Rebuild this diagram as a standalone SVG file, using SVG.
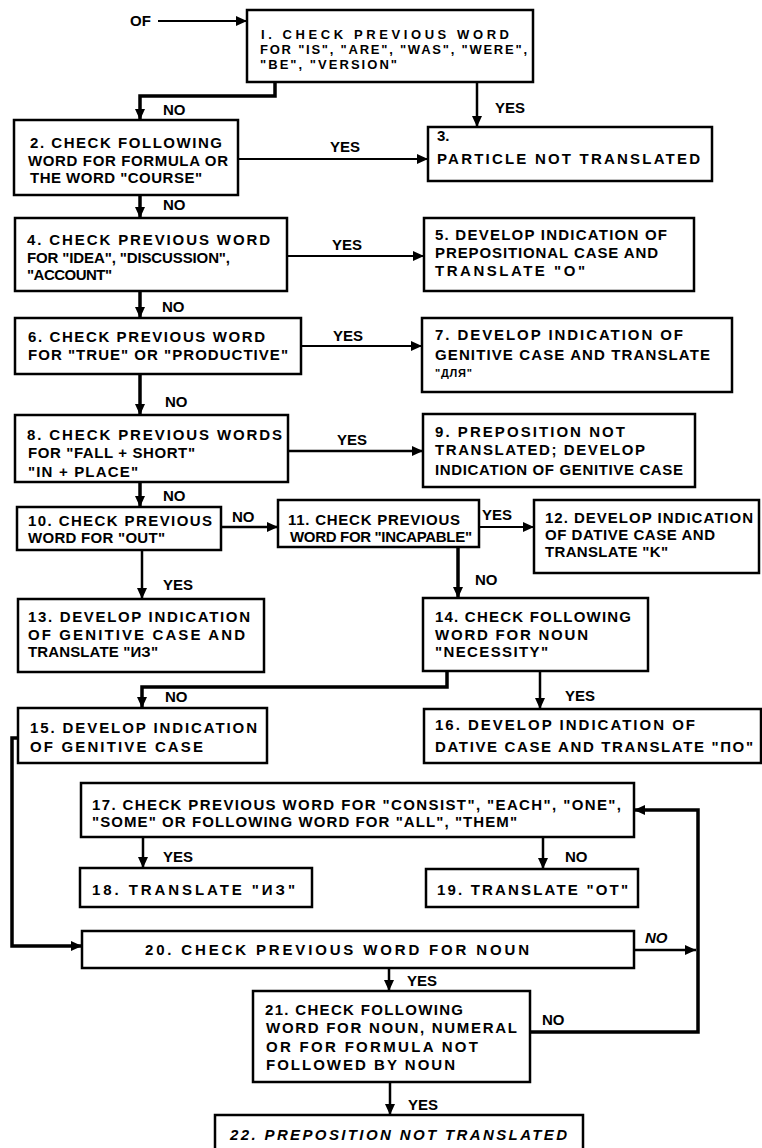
<svg xmlns="http://www.w3.org/2000/svg" width="762" height="1148" viewBox="0 0 762 1148">
<style>
.box{fill:#fff;stroke:#000;stroke-width:2.5}
.t{font-family:"Liberation Sans",Arial,sans-serif;font-weight:bold;font-size:15px;fill:#000}
.sm{font-size:11px}
.s13{font-size:13px}
.it{font-style:italic}
.thick{fill:none;stroke:#000;stroke-width:3.5}
.med{fill:none;stroke:#000;stroke-width:2.5}
.thin{fill:none;stroke:#000;stroke-width:1.8}
</style>
<defs>
<marker id="ah" markerUnits="userSpaceOnUse" markerWidth="11" markerHeight="10" refX="11" refY="5" orient="auto">
<path d="M0,0 L11,5 L0,10 z" fill="#000"/>
</marker>
</defs>
<rect width="762" height="1148" fill="#fff"/>

<g id="connectors">
<text class="t" x="130" y="26">OF</text>
<path class="thin" d="M158,21 H247" marker-end="url(#ah)"/>
<path class="thick" d="M275,82 V96 H140 V120" marker-end="url(#ah)"/>
<text class="t" x="163" y="115">NO</text>
<path class="med" d="M477,82 V127" marker-end="url(#ah)"/>
<text class="t" x="495" y="113">YES</text>
<path class="thin" d="M238,159 H428" marker-end="url(#ah)"/>
<text class="t" x="330" y="152">YES</text>
<path class="thick" d="M140,195 V218" marker-end="url(#ah)"/>
<text class="t" x="163" y="210">NO</text>
<path class="thin" d="M287,256 H424" marker-end="url(#ah)"/>
<text class="t" x="332" y="250">YES</text>
<path class="thick" d="M140,291 V318" marker-end="url(#ah)"/>
<text class="t" x="162" y="312">NO</text>
<path class="thin" d="M301,346 H422" marker-end="url(#ah)"/>
<text class="t" x="333" y="341">YES</text>
<path class="thick" d="M140,374 V415" marker-end="url(#ah)"/>
<text class="t" x="165" y="407">NO</text>
<path class="med" d="M288,451 H423" marker-end="url(#ah)"/>
<text class="t" x="337" y="445">YES</text>
<path class="thick" d="M140,482 V507" marker-end="url(#ah)"/>
<text class="t" x="163" y="501">NO</text>
<path class="med" d="M221,527 H278" marker-end="url(#ah)"/>
<text class="t" x="232" y="522">NO</text>
<path class="thin" d="M479,527 H534" marker-end="url(#ah)"/>
<text class="t" x="482" y="520">YES</text>
<path class="med" d="M142,550 V599" marker-end="url(#ah)"/>
<text class="t" x="163" y="590">YES</text>
<path class="thick" d="M458,547 V598" marker-end="url(#ah)"/>
<text class="t" x="475" y="585">NO</text>
<path class="thick" d="M447,671 V687 H142 V708" marker-end="url(#ah)"/>
<text class="t" x="165" y="702">NO</text>
<path class="med" d="M540,671 V709" marker-end="url(#ah)"/>
<text class="t" x="565" y="701">YES</text>
<path class="thick" d="M18,738 H12 V946 H82" marker-end="url(#ah)"/>
<path class="med" d="M143,837 V868" marker-end="url(#ah)"/>
<text class="t" x="163" y="862">YES</text>
<path class="med" d="M543,837 V869" marker-end="url(#ah)"/>
<text class="t" x="565" y="862">NO</text>
<path class="med" d="M634,950 H696" marker-end="url(#ah)"/>
<text class="t it" x="645" y="943">NO</text>
<path class="thick" d="M530,1032 H698 V810 H634" marker-end="url(#ah)"/>
<text class="t" x="542" y="1025">NO</text>
<path class="med" d="M389,968 V991" marker-end="url(#ah)"/>
<text class="t" x="407" y="986">YES</text>
<path class="med" d="M390,1082 V1115" marker-end="url(#ah)"/>
<text class="t" x="408" y="1110">YES</text>
</g>

<g id="n1">
<rect class="box" x="247" y="10" width="286" height="72"/>
<text class="t s13" x="261" y="39" textLength="248">I. CHECK PREVIOUS WORD</text>
<text class="t s13" x="260" y="54" textLength="267">FOR "IS", "ARE", "WAS", "WERE",</text>
<text class="t s13" x="260" y="69" textLength="137">"BE", "VERSION"</text>
</g>
<g id="n2">
<rect class="box" x="14" y="120" width="224" height="75"/>
<text class="t" x="30" y="148" textLength="192">2. CHECK FOLLOWING</text>
<text class="t" x="28" y="166" textLength="200">WORD FOR FORMULA OR</text>
<text class="t" x="30" y="183" textLength="172">THE WORD "COURSE"</text>
</g>
<g id="n3">
<rect class="box" x="428" y="127" width="284" height="54"/>
<text class="t" x="437" y="141">3.</text>
<text class="t" x="437" y="164" textLength="263">PARTICLE NOT TRANSLATED</text>
</g>
<g id="n4">
<rect class="box" x="15" y="218" width="272" height="73"/>
<text class="t" x="27" y="245" textLength="243">4. CHECK PREVIOUS WORD</text>
<text class="t" x="27" y="263" textLength="203">FOR "IDEA", "DISCUSSION",</text>
<text class="t" x="27" y="280" textLength="85">"ACCOUNT"</text>
</g>
<g id="n5">
<rect class="box" x="424" y="218" width="270" height="73"/>
<text class="t" x="435" y="240" textLength="232">5. DEVELOP INDICATION OF</text>
<text class="t" x="435" y="258" textLength="223">PREPOSITIONAL CASE AND</text>
<text class="t" x="435" y="276" textLength="150">TRANSLATE "O"</text>
</g>
<g id="n6">
<rect class="box" x="15" y="318" width="286" height="56"/>
<text class="t" x="28" y="342" textLength="237">6. CHECK PREVIOUS WORD</text>
<text class="t" x="28" y="360" textLength="260">FOR "TRUE" OR "PRODUCTIVE"</text>
</g>
<g id="n7">
<rect class="box" x="422" y="318" width="310" height="74"/>
<text class="t" x="435" y="340" textLength="248">7. DEVELOP INDICATION OF</text>
<text class="t" x="435" y="360" textLength="275">GENITIVE CASE AND TRANSLATE</text>
<text class="t sm" x="435" y="377" textLength="37">"ДЛЯ"</text>
</g>
<g id="n8">
<rect class="box" x="15" y="415" width="273" height="67"/>
<text class="t" x="27" y="440" textLength="255">8. CHECK PREVIOUS WORDS</text>
<text class="t" x="28" y="458" textLength="167">FOR "FALL + SHORT"</text>
<text class="t" x="28" y="477" textLength="110">"IN + PLACE"</text>
</g>
<g id="n9">
<rect class="box" x="423" y="414" width="272" height="73"/>
<text class="t" x="435" y="437" textLength="190">9. PREPOSITION NOT</text>
<text class="t" x="435" y="455" textLength="210">TRANSLATED; DEVELOP</text>
<text class="t" x="435" y="475" textLength="248">INDICATION OF GENITIVE CASE</text>
</g>
<g id="n10">
<rect class="box" x="17" y="507" width="204" height="43"/>
<text class="t" x="28" y="526" textLength="184">10. CHECK PREVIOUS</text>
<text class="t" x="28" y="543" textLength="137">WORD FOR "OUT"</text>
</g>
<g id="n11">
<rect class="box" x="278" y="500" width="201" height="47"/>
<text class="t" x="288" y="525" textLength="172">11. CHECK PREVIOUS</text>
<text class="t" x="290" y="542" textLength="182">WORD FOR "INCAPABLE"</text>
</g>
<g id="n12">
<rect class="box" x="534" y="500" width="225" height="73"/>
<text class="t" x="545" y="523" textLength="208">12. DEVELOP INDICATION</text>
<text class="t" x="545" y="540" textLength="170">OF DATIVE CASE AND</text>
<text class="t" x="545" y="557" textLength="123">TRANSLATE "K"</text>
</g>
<g id="n13">
<rect class="box" x="18" y="599" width="246" height="73"/>
<text class="t" x="28" y="622" textLength="222">13. DEVELOP INDICATION</text>
<text class="t" x="28" y="640" textLength="217">OF GENITIVE CASE AND</text>
<text class="t" x="28" y="657" textLength="130">TRANSLATE "ИЗ"</text>
</g>
<g id="n14">
<rect class="box" x="423" y="598" width="225" height="73"/>
<text class="t" x="435" y="622" textLength="196">14. CHECK FOLLOWING</text>
<text class="t" x="435" y="640" textLength="153">WORD FOR NOUN</text>
<text class="t" x="435" y="657" textLength="113">"NECESSITY"</text>
</g>
<g id="n15">
<rect class="box" x="18" y="708" width="249" height="55"/>
<text class="t" x="30" y="733" textLength="227">15. DEVELOP INDICATION</text>
<text class="t" x="30" y="752" textLength="173">OF GENITIVE CASE</text>
</g>
<g id="n16">
<rect class="box" x="424" y="709" width="337" height="54"/>
<text class="t" x="435" y="730" textLength="260">16. DEVELOP INDICATION OF</text>
<text class="t" x="435" y="752" textLength="318">DATIVE CASE AND TRANSLATE "ПО"</text>
</g>
<g id="n17">
<rect class="box" x="81" y="783" width="553" height="54"/>
<text class="t" x="92" y="810" textLength="529">17. CHECK PREVIOUS WORD FOR "CONSIST", "EACH", "ONE",</text>
<text class="t" x="92" y="827" textLength="425">"SOME" OR FOLLOWING WORD FOR "ALL", "THEM"</text>
</g>
<g id="n18">
<rect class="box" x="80" y="868" width="232" height="39"/>
<text class="t" x="92" y="895" textLength="203">18. TRANSLATE "ИЗ"</text>
</g>
<g id="n19">
<rect class="box" x="426" y="869" width="212" height="38"/>
<text class="t" x="437" y="895" textLength="191">19. TRANSLATE "ОТ"</text>
</g>
<g id="n20">
<rect class="box" x="82" y="931" width="552" height="37"/>
<text class="t" x="145" y="955" textLength="384">20. CHECK PREVIOUS WORD FOR NOUN</text>
</g>
<g id="n21">
<rect class="box" x="253" y="991" width="277" height="91"/>
<text class="t" x="265" y="1015" textLength="198">21. CHECK FOLLOWING</text>
<text class="t" x="266" y="1033" textLength="251">WORD FOR NOUN, NUMERAL</text>
<text class="t" x="266" y="1052" textLength="212">OR FOR FORMULA NOT</text>
<text class="t" x="266" y="1070" textLength="189">FOLLOWED BY NOUN</text>
</g>
<g id="n22">
<rect class="box" x="215" y="1115" width="368" height="50"/>
<text class="t it" x="230" y="1140" textLength="337">22. PREPOSITION NOT TRANSLATED</text>
</g>
</svg>
